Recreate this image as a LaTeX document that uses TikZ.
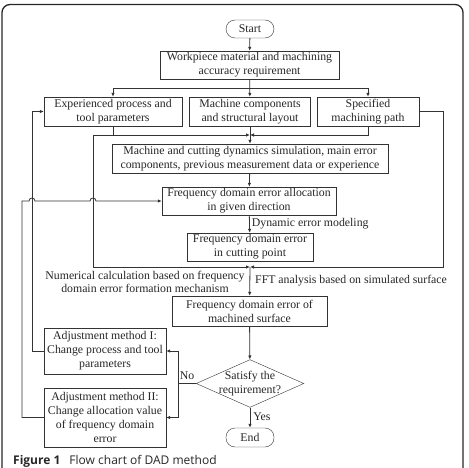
\documentclass[tikz,border=0pt]{standalone}
\usepackage{fontspec}
\setmainfont{Liberation Serif}
\newfontfamily\capfont{Open Sans}
\usetikzlibrary{shapes.geometric, arrows.meta}

\begin{document}
\begin{tikzpicture}[
    x=1pt, y=-1pt,
    box/.style={draw=black!80, rectangle, align=center, inner sep=0pt, text=black!85, font=\fontsize{11.8}{14}\selectfont},
    term/.style={box, rounded corners=9pt, minimum width=48pt, minimum height=18pt},
    decision/.style={box, diamond, aspect=2.255, inner xsep=1.5pt, inner ysep=-3pt},
    lbl/.style={align=center, inner sep=0pt, text=black!85, font=\fontsize{11.8}{13.5}\selectfont},
    arrow/.style={-{Latex[length=4pt,width=3.5pt]}, draw=black!80, line width=0.8pt},
    line/.style={draw=black!80, line width=0.8pt}
]
\useasboundingbox (0,0) rectangle (469,468);
\draw[black!85, line width=1.3pt, rounded corners=8pt] (2,4.5) rectangle (463,490);

% top part
\node[term] (start) at (250,29) {Start};
\node[box, minimum width=179pt, minimum height=28pt] (work) at (249.5,65) {Workpiece material and machining\\accuracy requirement};
\node[box, minimum width=138pt, minimum height=29pt] (exp) at (113,111.5) {Experienced process and\\tool parameters};
\node[box, minimum width=121pt, minimum height=29pt] (mach) at (250,111.5) {Machine components\\and structural layout};
\node[box, minimum width=102pt, minimum height=29pt] (spec) at (368,111.5) {Specified\\machining path};

% simulation chain
\node[box, minimum width=276pt, minimum height=29pt] (sim) at (250,158.5) {Machine and cutting dynamics simulation, main error\\components, previous measurement data or experience};
\node[box, minimum width=174pt, minimum height=28pt] (alloc) at (249,201) {Frequency domain error allocation\\in given direction};
\node[box, minimum width=126pt, minimum height=28pt] (cut) at (250,247) {Frequency domain error\\in cutting point};
\node[box, minimum width=155pt, minimum height=30pt] (surf) at (249.5,311) {Frequency domain error of\\machined surface};

% decision and adjustments
\node[decision] (dec) at (250,383.5) {Satisfy the\\requirement?};
\node[box, minimum width=122pt, minimum height=46pt] (adj1) at (105,351) {Adjustment method I:\\Change process and tool\\parameters};
\node[box, minimum width=122pt, minimum height=59pt] (adj2) at (105,417.5) {Adjustment method II:\\Change allocation value\\of frequency domain\\error};
\node[term, minimum height=19pt] (end) at (250,437.5) {End};

% helper points
\coordinate (dist) at (250,88);
\coordinate (join1) at (250,135);
\coordinate (join2) at (250,267);
\coordinate (loopL) at (93,135);
\coordinate (loopR) at (443,111.5);
\coordinate (nosplit) at (178,383.5);
\coordinate (fbA) at (32,0);
\coordinate (fbB) at (22,0);

\draw[arrow] (start) -- (work);
\draw[arrow] (work) -- (mach);
\draw[arrow] (dist) -| (exp);
\draw[arrow] (dist) -| (spec);
\draw[arrow] (exp) |- (join1);
\draw[arrow] (spec) |- (join1);
\draw[arrow] (mach) -- (sim);
\draw[arrow] (exp.south |- join1) -- (loopL) |- (join2);
\draw[arrow] (spec.east) -- (loopR) |- (join2);

\draw[arrow] (sim) -- (alloc);
\draw[arrow] (alloc) -- node[lbl, right=2pt, pos=0.5] {Dynamic error modeling} (cut);
\draw[arrow] (join2) -- (surf);
\node[lbl] (numlbl) at (145,282) {Numerical calculation based on frequency\\domain error formation mechanism};
\node[lbl, anchor=west] (fftlbl) at (255,281) {FFT analysis based on simulated surface};

\draw[arrow] (surf) -- (dec);
\draw[line] (dec) -- node[lbl, above=3pt] {No} (nosplit);
\draw[arrow] (nosplit) |- (adj1);
\draw[arrow] (nosplit) |- (adj2);
\draw[arrow] (dec) -- node[lbl, right=3pt, pos=0.45] {Yes} (end);

% feedback lines
\draw[arrow] (adj1.west) -| (exp.west -| fbA) -- (exp.west);
\draw[arrow] (adj2.west) -| (alloc.west -| fbB) -- ([xshift=-3pt]alloc.west -| fbA) arc (180:0:3pt)
    -- ([xshift=-3pt]alloc.west -| loopL) arc (180:0:3pt) -- (alloc.west);

\node[anchor=base west, inner sep=0pt, text=black!85, font=\capfont\fontsize{12}{14}\selectfont] (cap) at (13,464) {\textbf{Figure 1}\hspace{0.5em} Flow chart of DAD method};
\end{tikzpicture}
\end{document}
